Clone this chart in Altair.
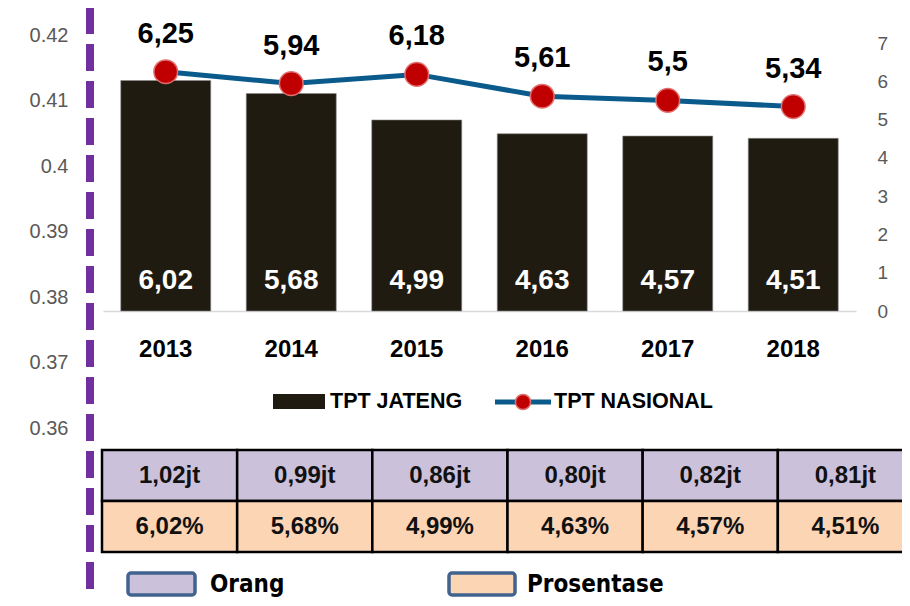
import altair as alt
import pandas as pd

# ---- data ----
years = ["2013", "2014", "2015", "2016", "2017", "2018"]
tpt_jateng = [6.02, 5.68, 4.99, 4.63, 4.57, 4.51]
tpt_nasional = [6.25, 5.94, 6.18, 5.61, 5.5, 5.34]
orang = ["1,02jt", "0,99jt", "0,86jt", "0,80jt", "0,82jt", "0,81jt"]
left_ticks = [0.36, 0.37, 0.38, 0.39, 0.40, 0.41, 0.42]
right_ticks = [0, 1, 2, 3, 4, 5, 6, 7]
table_rows = ["Orang", "Prosentase"]

BAR = "#1f1b10"
LINE = "#0b5a8c"
RED = "#c00000"
RED_EDGE = "#e07070"
PURPLE_CELL = "#ccc1da"
PEACH_CELL = "#fcd5b5"
FONT = "Liberation Sans"
NARROW = "Liberation Sans Narrow, DejaVu Sans Condensed, sans-serif"

W, H = 894, 590


def comma(v):
    return f"{v}".replace(".", ",")


main = pd.DataFrame({
    "year": years,
    "jateng": tpt_jateng,
    "nasional": tpt_nasional,
    "jlabel": [comma(v) for v in tpt_jateng],
    "nlabel": [comma(v) for v in tpt_nasional],
})

table = pd.DataFrame(
    [{"year": y, "row": "Orang", "txt": o} for y, o in zip(years, orang)]
    + [{"year": y, "row": "Prosentase", "txt": f"{v:.2f}".replace(".", ",") + "%"}
       for y, v in zip(years, tpt_jateng)]
)

one = pd.DataFrame({"d": [0]})

# ---- scales ----
X = alt.Scale(domain=years, range=[95, 848], paddingInner=0.283, paddingOuter=0.1415)
Y = alt.Scale(domain=[0, 7], range=[303, 35], nice=False, zero=False)

xaxis = alt.Axis(orient="bottom", offset=303 - H, domainColor="#d9d9d9", domainWidth=1.5,
                 ticks=False, grid=False, labelAngle=0, labelFont=FONT,
                 labelFontWeight="bold", labelFontSize=24, labelColor="#000000",
                 labelPadding=26, title=None)
yaxis = alt.Axis(orient="right", offset=869 - W, values=right_ticks, format="d",
                 domain=False, ticks=False, grid=False, labelPadding=0, labelFontSize=19,
                 labelColor="#595959", labelFont=FONT, labelFlush=False,
                 labelOverlap=False, title=None)

base = alt.Chart(main)
bars = base.mark_bar(color=BAR, stroke="#8c8c8c", strokeWidth=0.6).encode(
    x=alt.X("year:N", scale=X, axis=xaxis),
    y=alt.Y("jateng:Q", scale=Y, axis=yaxis),
)
line = base.mark_line(color=LINE, strokeWidth=5).encode(
    x=alt.X("year:N", scale=X), y=alt.Y("nasional:Q", scale=Y))
points = base.mark_circle(size=560, color=RED, stroke=RED_EDGE, strokeWidth=1.5,
                          opacity=1).encode(
    x=alt.X("year:N", scale=X), y=alt.Y("nasional:Q", scale=Y))
top_labels = base.mark_text(dy=-38, font=FONT, fontSize=29, fontWeight="bold",
                            color="#000000").encode(
    x=alt.X("year:N", scale=X), y=alt.Y("nasional:Q", scale=Y), text="nlabel:N")
bar_labels = base.mark_text(dy=-30, font=FONT, fontSize=28, fontWeight="bold",
                            color="#ffffff").encode(
    x=alt.X("year:N", scale=X), y=alt.datum(0), text="jlabel:N")

main_layer = alt.layer(bars, line, points, top_labels, bar_labels)

# ---- left stray axis ----
left_layer = alt.Chart(pd.DataFrame({"t": left_ticks})).mark_point(opacity=0).encode(
    y=alt.Y("t:Q",
            scale=alt.Scale(domain=[0.36, 0.42], range=[420, 27], nice=False, zero=False),
            axis=alt.Axis(orient="left", offset=-60, values=left_ticks, format="~g",
                          domain=False, ticks=False, grid=False, labelPadding=0,
                          labelFontSize=20, labelColor="#595959", labelFont=FONT,
                          labelFlush=False, labelOverlap=False, title=None)))

# ---- table ----
TX = alt.Scale(domain=years, range=[94, 905], paddingInner=0, paddingOuter=0)
TY = alt.Scale(domain=table_rows, range=[442, 544], paddingInner=0, paddingOuter=0)
tbase = alt.Chart(table)
cells = tbase.mark_rect(stroke="#000000", strokeWidth=2.5).encode(
    x=alt.X("year:N", scale=TX, axis=None),
    y=alt.Y("row:N", scale=TY, axis=None),
    color=alt.Color("row:N", scale=alt.Scale(domain=table_rows,
                                             range=[PURPLE_CELL, PEACH_CELL]),
                    legend=None),
)
cell_text = tbase.mark_text(font=FONT, fontSize=24, fontWeight="bold",
                            color="#111111").encode(
    x=alt.X("year:N", scale=TX, axis=None),
    y=alt.Y("row:N", scale=TY, axis=None),
    text="txt:N",
)
table_layer = alt.layer(cells, cell_text)

# ---- decorations / manual legends ----
d = alt.Chart(one)
dash = d.mark_rule(color="#7030a0", strokeWidth=8, strokeDash=[27, 10]).encode(
    x=alt.value(82), y=alt.value(-1), y2=alt.value(H))
leg_bar = d.mark_rect(color=BAR).encode(
    x=alt.value(265), x2=alt.value(317), y=alt.value(386), y2=alt.value(401))
leg_bar_t = d.mark_text(text="TPT JATENG", align="left", baseline="middle", font=FONT,
                        fontSize=21.5, fontWeight="bold", color="#000000").encode(
    x=alt.value(322), y=alt.value(394))
leg_line = d.mark_rule(color=LINE, strokeWidth=5).encode(
    x=alt.value(487), x2=alt.value(543), y=alt.value(394))
leg_pt = d.mark_circle(size=230, color=RED, stroke=RED_EDGE, strokeWidth=1.5,
                       opacity=1).encode(x=alt.value(515), y=alt.value(394))
leg_line_t = d.mark_text(text="TPT NASIONAL", align="left", baseline="middle", font=FONT,
                         fontSize=21.5, fontWeight="bold", color="#000000").encode(
    x=alt.value(546), y=alt.value(394))
box1 = d.mark_rect(fill=PURPLE_CELL, stroke="#41638f", strokeWidth=3.5,
                   cornerRadius=3).encode(
    x=alt.value(120), x2=alt.value(187), y=alt.value(565), y2=alt.value(587))
box1_t = d.mark_text(text="Orang", align="left", baseline="middle", font=NARROW,
                     fontSize=24, fontWeight="bold", color="#000000").encode(
    x=alt.value(202), y=alt.value(577))
box2 = d.mark_rect(fill=PEACH_CELL, stroke="#41638f", strokeWidth=3.5,
                   cornerRadius=3).encode(
    x=alt.value(441), x2=alt.value(507), y=alt.value(565), y2=alt.value(587))
box2_t = d.mark_text(text="Prosentase", align="left", baseline="middle", font=NARROW,
                     fontSize=24, fontWeight="bold", color="#000000").encode(
    x=alt.value(519), y=alt.value(577))

chart = alt.layer(
    left_layer, main_layer, table_layer,
    dash, leg_bar, leg_bar_t, leg_line, leg_pt, leg_line_t,
    box1, box1_t, box2, box2_t,
).resolve_scale(
    x="independent", y="independent", color="independent"
).properties(
    width=W, height=H, padding=0,
    autosize=alt.AutoSizeParams(type="none"),
    background="#ffffff",
).configure_view(stroke=None)

chart.save("out.html", embed_options={"renderer": "svg", "actions": False})
